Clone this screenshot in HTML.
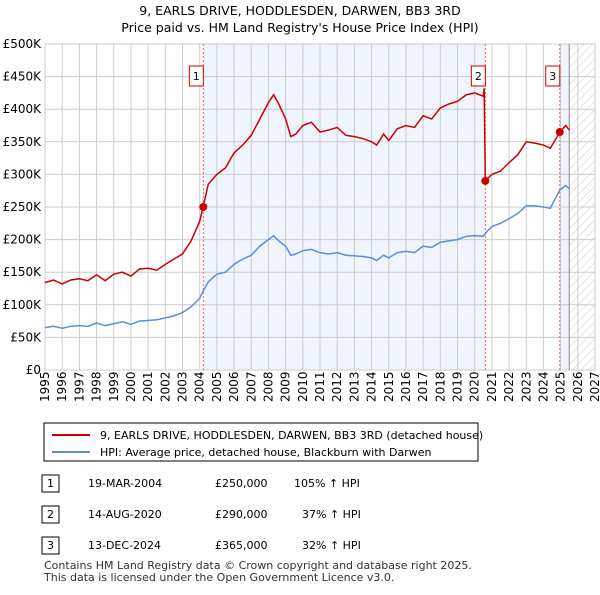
<!DOCTYPE html>
<html><head><meta charset="utf-8"><style>
body{margin:0;background:#fff;font-family:"Liberation Sans","DejaVu Sans",sans-serif;}
svg text{font-family:"DejaVu Sans","Liberation Sans",sans-serif;}
</style></head><body>
<svg id="c" width="600" height="590" xmlns="http://www.w3.org/2000/svg">
<defs><pattern id="hatch" width="6" height="6" patternUnits="userSpaceOnUse" patternTransform="rotate(45)"><line x1="0" y1="0" x2="0" y2="6" stroke="#ccc" stroke-width="1"/></pattern></defs>
<text x="300" y="15" text-anchor="middle" font-size="12.5">9, EARLS DRIVE, HODDLESDEN, DARWEN, BB3 3RD</text>
<text x="300" y="32" text-anchor="middle" font-size="12.5">Price paid vs. HM Land Registry's House Price Index (HPI)</text>
<g id="plot"></g>
<rect x="44" y="423" width="434" height="38" fill="#fff" stroke="#000" stroke-width="1"/>
<line x1="52" y1="435" x2="90" y2="435" stroke="#cc0000" stroke-width="2"/>
<text x="100" y="439" font-size="11">9, EARLS DRIVE, HODDLESDEN, DARWEN, BB3 3RD (detached house)</text>
<line x1="52" y1="452" x2="90" y2="452" stroke="#5b8fd6" stroke-width="2"/>
<text x="100" y="456" font-size="11">HPI: Average price, detached house, Blackburn with Darwen</text>
<g font-size="11">
<rect x="42" y="475" width="17" height="17" fill="#fff" stroke="#000"/><text x="50.5" y="487" text-anchor="middle">1</text>
<text x="88" y="487">19-MAR-2004</text><text x="215" y="487">£250,000</text><text x="294" y="487">105% ↑ HPI</text>
<rect x="42" y="506" width="17" height="17" fill="#fff" stroke="#000"/><text x="50.5" y="518" text-anchor="middle">2</text>
<text x="88" y="518">14-AUG-2020</text><text x="215" y="518">£290,000</text><text x="302" y="518">37% ↑ HPI</text>
<rect x="42" y="537" width="17" height="17" fill="#fff" stroke="#000"/><text x="50.5" y="549" text-anchor="middle">3</text>
<text x="88" y="549">13-DEC-2024</text><text x="215" y="549">£365,000</text><text x="302" y="549">32% ↑ HPI</text>
</g>
<text x="44" y="569" font-size="11" fill="#333">Contains HM Land Registry data © Crown copyright and database right 2025.</text>
<text x="44" y="581" font-size="11" fill="#333">This data is licensed under the Open Government Licence v3.0.</text>
</svg>
<script>
const hpiDates=[1995,1995.5,1996,1996.5,1997,1997.5,1998,1998.5,1999,1999.5,2000,2000.5,2001,2001.5,2002,2002.5,2003,2003.5,2004,2004.2,2004.5,2005,2005.5,2006,2006.5,2007,2007.5,2008,2008.3,2008.6,2009,2009.3,2009.6,2010,2010.5,2011,2011.5,2012,2012.5,2013,2013.5,2014,2014.3,2014.7,2015,2015.5,2016,2016.5,2017,2017.5,2018,2018.5,2019,2019.5,2020,2020.5,2020.7,2021,2021.5,2022,2022.5,2023,2023.5,2024,2024.4,2024.95,2025.3,2025.5];
const hpiValues=[65,67,64,67,68,67,72,68,71,74,70,75,76,77,80,83,88,97,110,121,135,147,150,162,170,176,190,200,206,198,190,176,178,183,185,180,178,180,176,175,174,172,168,176,172,180,182,180,190,188,196,198,200,205,206,205,212,220,225,232,240,252,252,250,248,276,283,278];
const redDates=[1995,1995.5,1996,1996.5,1997,1997.5,1998,1998.5,1999,1999.5,2000,2000.5,2001,2001.5,2002,2002.5,2003,2003.5,2004,2004.2,2004.5,2005,2005.5,2006,2006.5,2007,2007.5,2008,2008.3,2008.6,2009,2009.3,2009.6,2010,2010.5,2011,2011.5,2012,2012.5,2013,2013.5,2014,2014.3,2014.7,2015,2015.5,2016,2016.5,2017,2017.5,2018,2018.5,2019,2019.5,2020,2020.5,2020.55,2020.62,2021,2021.5,2022,2022.5,2023,2023.5,2024,2024.4,2024.95,2025.3,2025.5];
const redValues=[134,138,132,138,140,137,146,137,147,150,144,155,156,153,162,170,178,198,228,250,285,300,310,333,345,360,385,410,422,408,385,358,362,375,380,365,368,372,360,358,355,350,345,362,352,370,375,372,390,385,402,408,412,422,425,420,432,290,300,305,318,330,350,348,345,340,365,375,368];
const saleDates=[2004.21,2020.62,2024.95];
const saleValues=[250,290,365];
const saleLabels=["1","2","3"];
const yTicks=[0,50,100,150,200,250,300,350,400,450,500];
const yTickLabels=["£0","£50K","£100K","£150K","£200K","£250K","£300K","£350K","£400K","£450K","£500K"];
const xTicks=[1995,1996,1997,1998,1999,2000,2001,2002,2003,2004,2005,2006,2007,2008,2009,2010,2011,2012,2013,2014,2015,2016,2017,2018,2019,2020,2021,2022,2023,2024,2025,2026,2027];
const L=45,R=595,T=44,B=370,X0=1995,X1=2027,Ymax=500,dataEnd=2025.5;
const x=d=>L+(d-X0)/(X1-X0)*(R-L);
const y=v=>B-v/Ymax*(B-T);
const NS="http://www.w3.org/2000/svg";
const g=document.getElementById('plot');
function mk(t,a,p){const e=document.createElementNS(NS,t);for(const k in a)e.setAttribute(k,a[k]);(p||g).appendChild(e);return e;}
let e;
e=mk('rect',{x:x(saleDates[0]),y:T,width:x(saleDates[1])-x(saleDates[0]),height:B-T,fill:'#f0f4fd'});


e=mk('rect',{x:x(saleDates[2]),y:T,width:x(dataEnd)-x(saleDates[2]),height:B-T,fill:'#f0f4fd'});


e=mk('rect',{x:x(dataEnd),y:T,width:R-x(dataEnd),height:B-T,fill:'url(#hatch)'});


yTicks.forEach((v,i)=>{
 e=mk('line',{x1:L,x2:R,y1:y(v),y2:y(v),stroke:'#ccc','stroke-width':1});
 
 
 e=mk('text',{x:L-4,y:y(v)+4,'text-anchor':'end','font-size':12});
 e.textContent=yTickLabels[i];
 
 
});
xTicks.forEach(d=>{
 e=mk('line',{x1:x(d),x2:x(d),y1:T,y2:B,stroke:'#ccc','stroke-width':1});
 
 
 e=mk('text',{transform:`translate(${x(d)+4},${B+32}) rotate(-90)`,'font-size':12});
 e.textContent=d;
 
 
});
e=mk('rect',{x:L,y:T,width:R-L,height:B-T,fill:'none',stroke:'#ccc'});


e=mk('line',{x1:x(dataEnd),x2:x(dataEnd),y1:T,y2:B,stroke:'#888','stroke-width':1});


saleDates.forEach((d,i)=>{
 e=mk('line',{x1:x(d),x2:x(d),y1:T,y2:B,stroke:'#f06060','stroke-width':1,'stroke-dasharray':'2,2'});
 
 
});
e=mk('polyline',{points:hpiDates.map((d,i)=>x(d)+','+y(hpiValues[i])).join(' '),fill:'none',stroke:'#5b8fd6','stroke-width':1.5});


e=mk('polyline',{points:redDates.map((d,i)=>x(d)+','+y(redValues[i])).join(' '),fill:'none',stroke:'#cc0000','stroke-width':1.5});


saleDates.forEach((d,i)=>{
 e=mk('circle',{cx:x(d),cy:y(saleValues[i]),r:4,fill:'#cc0000'});
 
 
 const bx=x(d)-7-(i==0?0:0);
 const gg=mk('g',{});
 
 
 mk('rect',{x:x(d)-21+7,y:66,width:14,height:20,fill:'#fff',stroke:'#cc0000'},gg);
 const t=mk('text',{x:x(d)-7,y:80,'text-anchor':'middle','font-size':11},gg);
 t.textContent=saleLabels[i];
});
</script>
</body></html>
